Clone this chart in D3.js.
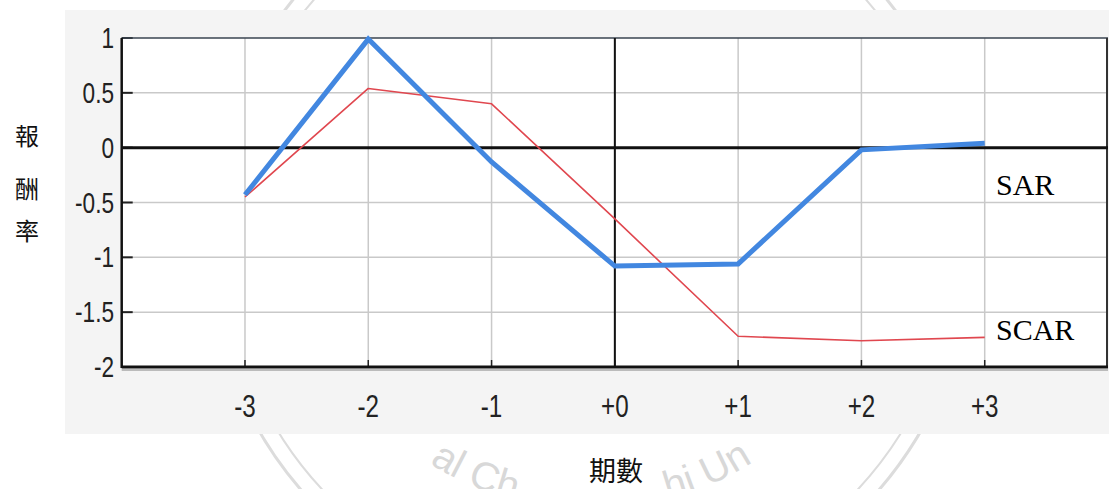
<!DOCTYPE html>
<html><head><meta charset="utf-8">
<script src="https://cdn.jsdelivr.net/npm/d3@7"></script>
<style>body{margin:0;background:#fff}svg{display:block}</style>
</head><body>
<svg id="c" width="1109" height="489"></svg>
<script>
const periods = [-3, -2, -1, 0, 1, 2, 3];
const periodLabels = ["-3", "-2", "-1", "+0", "+1", "+2", "+3"];
const sarValues = [-0.43, 0.99, -0.13, -1.08, -1.06, -0.02, 0.04];
const scarValues = [-0.45, 0.54, 0.40, -0.65, -1.72, -1.76, -1.73];
const yTicks = [1, 0.5, 0, -0.5, -1, -1.5, -2];
const yTickLabels = ["1", "0.5", "0", "-0.5", "-1", "-1.5", "-2"];
const yTitle = ["報", "酬", "率"];
const xTitle = "期數";
const seriesNames = ["SAR", "SCAR"];
const watermarkParts = ["al Ch", "hi Un"];

const svg = d3.select("#c");
const x = d3.scaleLinear().domain([-4, 4]).range([121.7, 1108]);
const y = d3.scaleLinear().domain([-2, 1]).range([367, 38]);

// watermark (seal) behind the chart panel
const wm = svg.append("g").attr("fill", "none").attr("stroke", "#dcdcdc");
wm.append("circle").attr("cx", 590).attr("cy", 240).attr("r", 382).attr("stroke-width", 3);
wm.append("circle").attr("cx", 590).attr("cy", 240).attr("r", 366).attr("stroke-width", 2);
const defs = svg.append("defs");
defs.append("path").attr("id", "wmArc")
  .attr("d", "M 290 210 A 300 300 0 0 0 890 210");
const wmText = svg.append("g").attr("font-family", "Liberation Sans, Arial, sans-serif")
  .attr("font-size", 40).attr("fill", "#d8d8d8");
wmText.append("text").append("textPath").attr("href", "#wmArc").attr("startOffset", 395)
  .attr("text-anchor", "end").text(watermarkParts[0]);
wmText.append("text").append("textPath").attr("href", "#wmArc").attr("startOffset", 550)
  .attr("text-anchor", "start").text(watermarkParts[1]);

// panel
svg.append("rect").attr("x", 65).attr("y", 10).attr("width", 1044).attr("height", 424).attr("fill", "#f4f4f4");
svg.append("rect").attr("x", x(-4)).attr("y", y(1)).attr("width", x(4) - x(-4)).attr("height", y(-2) - y(1)).attr("fill", "#fff");

// grid
const grid = svg.append("g").attr("stroke", "#c9c9c9").attr("stroke-width", 1.5);
grid.selectAll("line.v").data(periods).join("line")
  .attr("x1", d => x(d)).attr("x2", d => x(d)).attr("y1", y(1)).attr("y2", y(-2));
grid.selectAll("line.h").data(yTicks.filter(d => d !== 1 && d !== -2 && d !== 0)).join("line")
  .attr("class", "h")
  .attr("x1", x(-4)).attr("x2", x(4)).attr("y1", d => y(d)).attr("y2", d => y(d));

// y tick marks
svg.append("g").attr("stroke", "#222").attr("stroke-width", 2)
  .selectAll("line").data(yTicks).join("line")
  .attr("x1", x(-4)).attr("x2", x(-4) + 11).attr("y1", d => y(d)).attr("y2", d => y(d));
// x tick marks
svg.append("g").attr("stroke", "#222").attr("stroke-width", 1.5)
  .selectAll("line").data(periods).join("line")
  .attr("x1", d => x(d)).attr("x2", d => x(d)).attr("y1", y(-2)).attr("y2", y(-2) - 7);

// frame
svg.append("line").attr("x1", x(-4)).attr("x2", x(4)).attr("y1", y(1)).attr("y2", y(1)).attr("stroke", "#3a4550").attr("stroke-width", 1.5);
svg.append("line").attr("x1", x(4) - 1).attr("x2", x(4) - 1).attr("y1", y(1)).attr("y2", y(-2)).attr("stroke", "#333").attr("stroke-width", 2);
svg.append("line").attr("x1", x(-4)).attr("x2", x(-4)).attr("y1", y(1)).attr("y2", y(-2) + 1).attr("stroke", "#111").attr("stroke-width", 2.5);
svg.append("line").attr("x1", x(-4)).attr("x2", x(4)).attr("y1", y(-2) + 3).attr("y2", y(-2) + 3).attr("stroke", "#bbb").attr("stroke-width", 2);
svg.append("line").attr("x1", x(-4)).attr("x2", x(4)).attr("y1", y(-2)).attr("y2", y(-2)).attr("stroke", "#111").attr("stroke-width", 3);
// zero axes
svg.append("line").attr("x1", x(-4)).attr("x2", x(4)).attr("y1", y(0)).attr("y2", y(0)).attr("stroke", "#111").attr("stroke-width", 3);
svg.append("line").attr("x1", x(0)).attr("x2", x(0)).attr("y1", y(1)).attr("y2", y(-2)).attr("stroke", "#111").attr("stroke-width", 2);

// series
const line = d3.line().x((d, i) => x(periods[i])).y(d => y(d));
svg.append("path").datum(scarValues).attr("d", line).attr("fill", "none")
  .attr("stroke", "#e0474f").attr("stroke-width", 1.6).attr("stroke-linejoin", "round");
svg.append("path").datum(sarValues).attr("d", line).attr("fill", "none")
  .attr("stroke", "#4287e0").attr("stroke-width", 5).attr("stroke-linejoin", "miter");

// tick labels
const narrow = "Liberation Sans, Arial, sans-serif";
svg.append("g").selectAll("text").data(yTicks).join("text")
  .attr("transform", d => `translate(114,${y(d)}) scale(0.78,1)`)
  .attr("text-anchor", "end").attr("dy", "0.35em")
  .attr("font-family", narrow).attr("font-size", 29).attr("fill", "#222")
  .text((d, i) => yTickLabels[i]);
svg.append("g").selectAll("text").data(periods).join("text")
  .attr("transform", d => `translate(${x(d)},406.5) scale(0.78,1)`)
  .attr("text-anchor", "middle").attr("dy", "0.35em")
  .attr("font-family", narrow).attr("font-size", 31).attr("fill", "#222")
  .text((d, i) => periodLabels[i]);

// titles
const cjk = "Noto Sans CJK TC, Noto Sans CJK SC, sans-serif";
const yTitleY = [137, 190, 232];
svg.append("g").selectAll("text").data(yTitle).join("text")
  .attr("x", 27).attr("y", (d, i) => yTitleY[i]).attr("dy", "0.35em")
  .attr("text-anchor", "middle").attr("font-family", cjk).attr("font-size", 24).attr("fill", "#111")
  .text(d => d);
svg.append("text").attr("x", 616).attr("y", 472).attr("dy", "0.35em")
  .attr("text-anchor", "middle").attr("font-family", cjk).attr("font-size", 27).attr("fill", "#111")
  .text(xTitle);

// series labels
const serif = "Liberation Serif, Times New Roman, serif";
const lblY = [195, 340];
svg.append("g").selectAll("text").data(seriesNames).join("text")
  .attr("x", 996).attr("y", (d, i) => lblY[i])
  .attr("font-family", serif).attr("font-size", 30).attr("fill", "#000")
  .text(d => d);
</script>
</body></html>
